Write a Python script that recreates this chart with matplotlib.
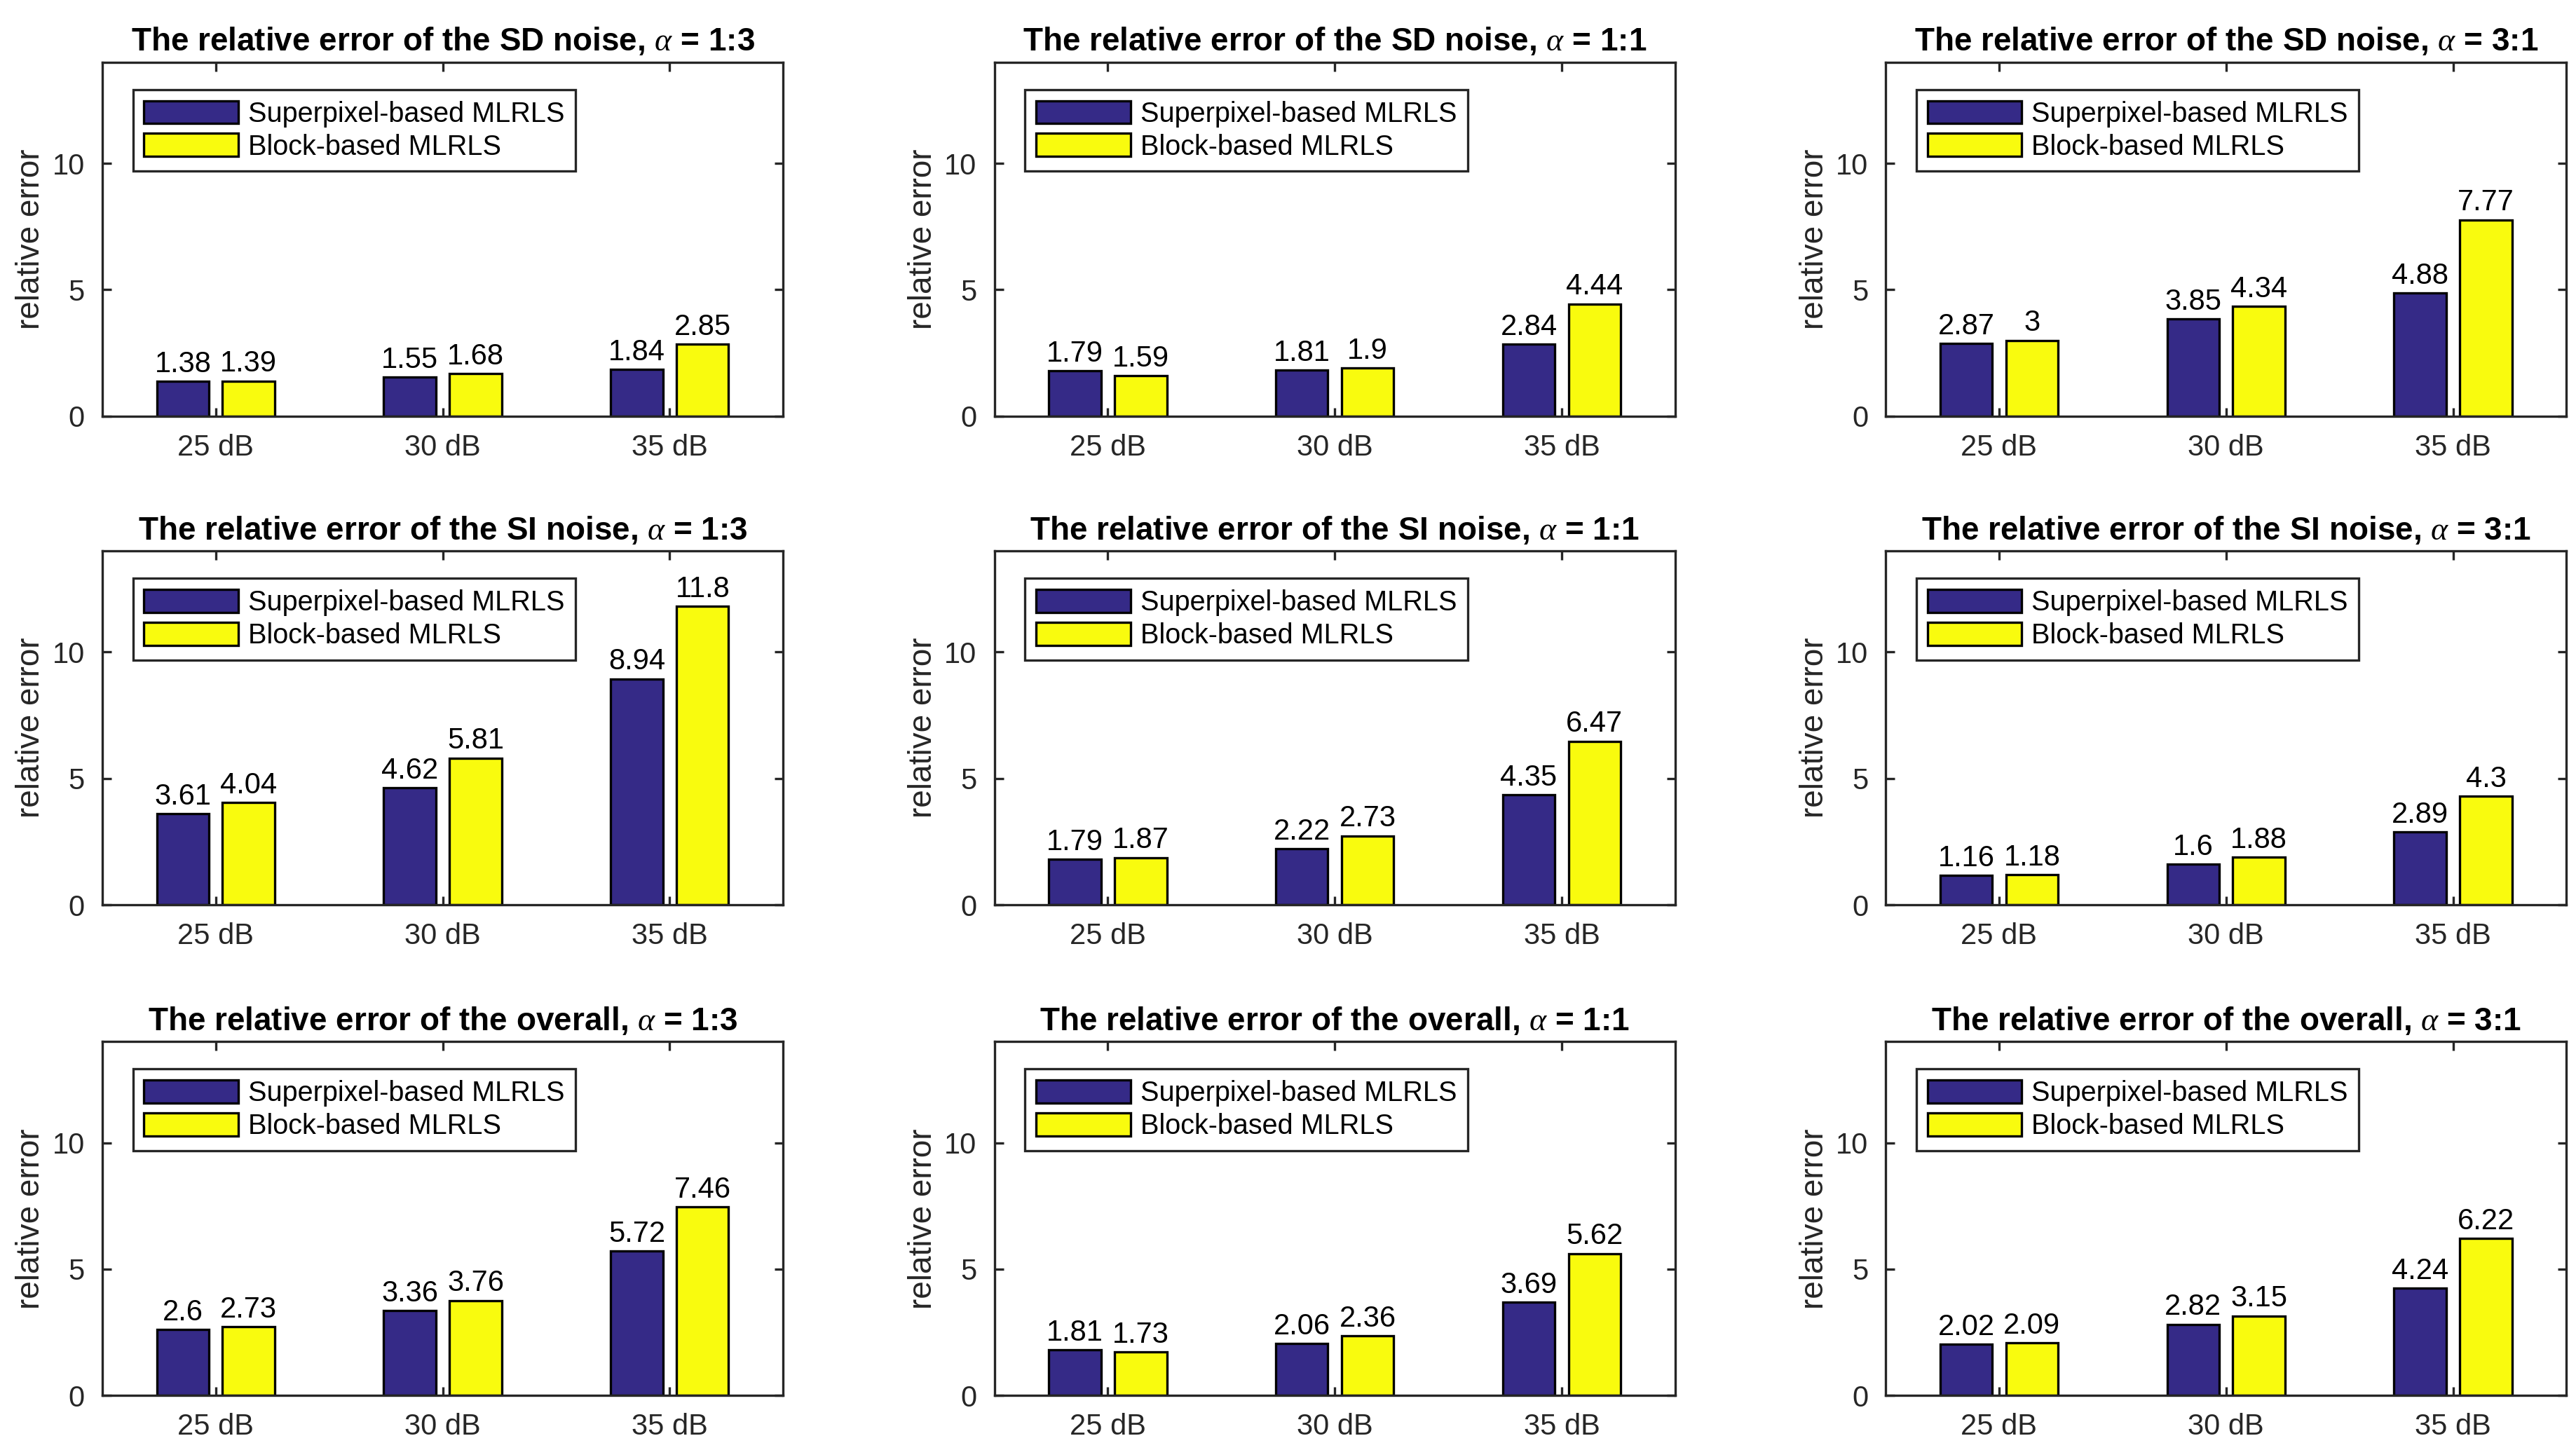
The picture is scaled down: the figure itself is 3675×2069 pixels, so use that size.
import numpy as np
import matplotlib.pyplot as plt
from matplotlib.patches import Patch

plt.rcParams["font.family"] = ["Liberation Sans", "DejaVu Sans"]
plt.rcParams["mathtext.fontset"] = "custom"
plt.rcParams["mathtext.it"] = "Liberation Serif:italic"

GROUPS = ["25 dB", "30 dB", "35 dB"]
SERIES = ["Superpixel-based MLRLS", "Block-based MLRLS"]
KINDS = ["SD noise", "SI noise", "overall"]
RATIOS = ["1:3", "1:1", "3:1"]

# superpixel / block values per (kind, ratio)
sd_13 = ([1.38, 1.55, 1.84], [1.39, 1.68, 2.85])
sd_11 = ([1.79, 1.81, 2.84], [1.59, 1.9, 4.44])
sd_31 = ([2.87, 3.85, 4.88], [3, 4.34, 7.77])
si_13 = ([3.61, 4.62, 8.94], [4.04, 5.81, 11.8])
si_11 = ([1.79, 2.22, 4.35], [1.87, 2.73, 6.47])
si_31 = ([1.16, 1.6, 2.89], [1.18, 1.88, 4.3])
ov_13 = ([2.6, 3.36, 5.72], [2.73, 3.76, 7.46])
ov_11 = ([1.81, 2.06, 3.69], [1.73, 2.36, 5.62])
ov_31 = ([2.02, 2.82, 4.24], [2.09, 3.15, 6.22])

DATA = [[sd_13, sd_11, sd_31],
        [si_13, si_11, si_31],
        [ov_13, ov_11, ov_31]]

COLORS = ["#352a87", "#f9fb0e"]
DARK = "#262626"

fig = plt.figure(figsize=(12.25, 6.897), dpi=300)

lefts = [0.0397, 0.386, 0.732]
bottoms = [0.713, 0.376, 0.0376]
W, H = 0.2643, 0.244

x = np.arange(1, 4)
bw = 0.23
offs = [-0.145, 0.145]

for r in range(3):
    for c in range(3):
        ax = fig.add_axes([lefts[c], bottoms[r], W, H])
        s_vals, b_vals = DATA[r][c]
        for k, vals in enumerate([s_vals, b_vals]):
            bars = ax.bar(x + offs[k], vals, bw, color=COLORS[k],
                          edgecolor="black", linewidth=0.8, label=SERIES[k])
            for b, v in zip(bars, vals):
                ax.text(b.get_x() + b.get_width() / 2, v + 0.12, f"{v:g}",
                        ha="center", va="bottom", fontsize=10, color="black")
        ax.set_xlim(0.5, 3.5)
        ax.set_ylim(0, 14)
        ax.set_xticks(x)
        ax.set_xticklabels(GROUPS)
        ax.set_yticks([0, 5, 10])
        ax.tick_params(direction="in", top=True, right=True, length=3,
                       width=0.8, colors=DARK, labelsize=10, pad=6)
        for sp in ax.spines.values():
            sp.set_color(DARK)
            sp.set_linewidth(0.8)
        ax.set_ylabel("relative error", fontsize=11, color=DARK, labelpad=2)
        ax.set_title(f"The relative error of the {KINDS[r]}, $\\alpha$ = {RATIOS[c]}",
                     fontsize=11, fontweight="bold", pad=4)
        handles = [Patch(facecolor=COLORS[k], edgecolor="black", linewidth=0.8)
                   for k in range(2)]
        leg = ax.legend(handles, SERIES, loc="upper left",
                        bbox_to_anchor=(0.045, 0.923), fontsize=9.5,
                        handlelength=3.4, handleheight=0.9, handletextpad=0.35,
                        labelspacing=0.22, borderpad=0.4, fancybox=False,
                        framealpha=1, edgecolor=DARK, borderaxespad=0)
        leg.get_frame().set_linewidth(0.8)

fig.savefig("out.png", dpi=300)
